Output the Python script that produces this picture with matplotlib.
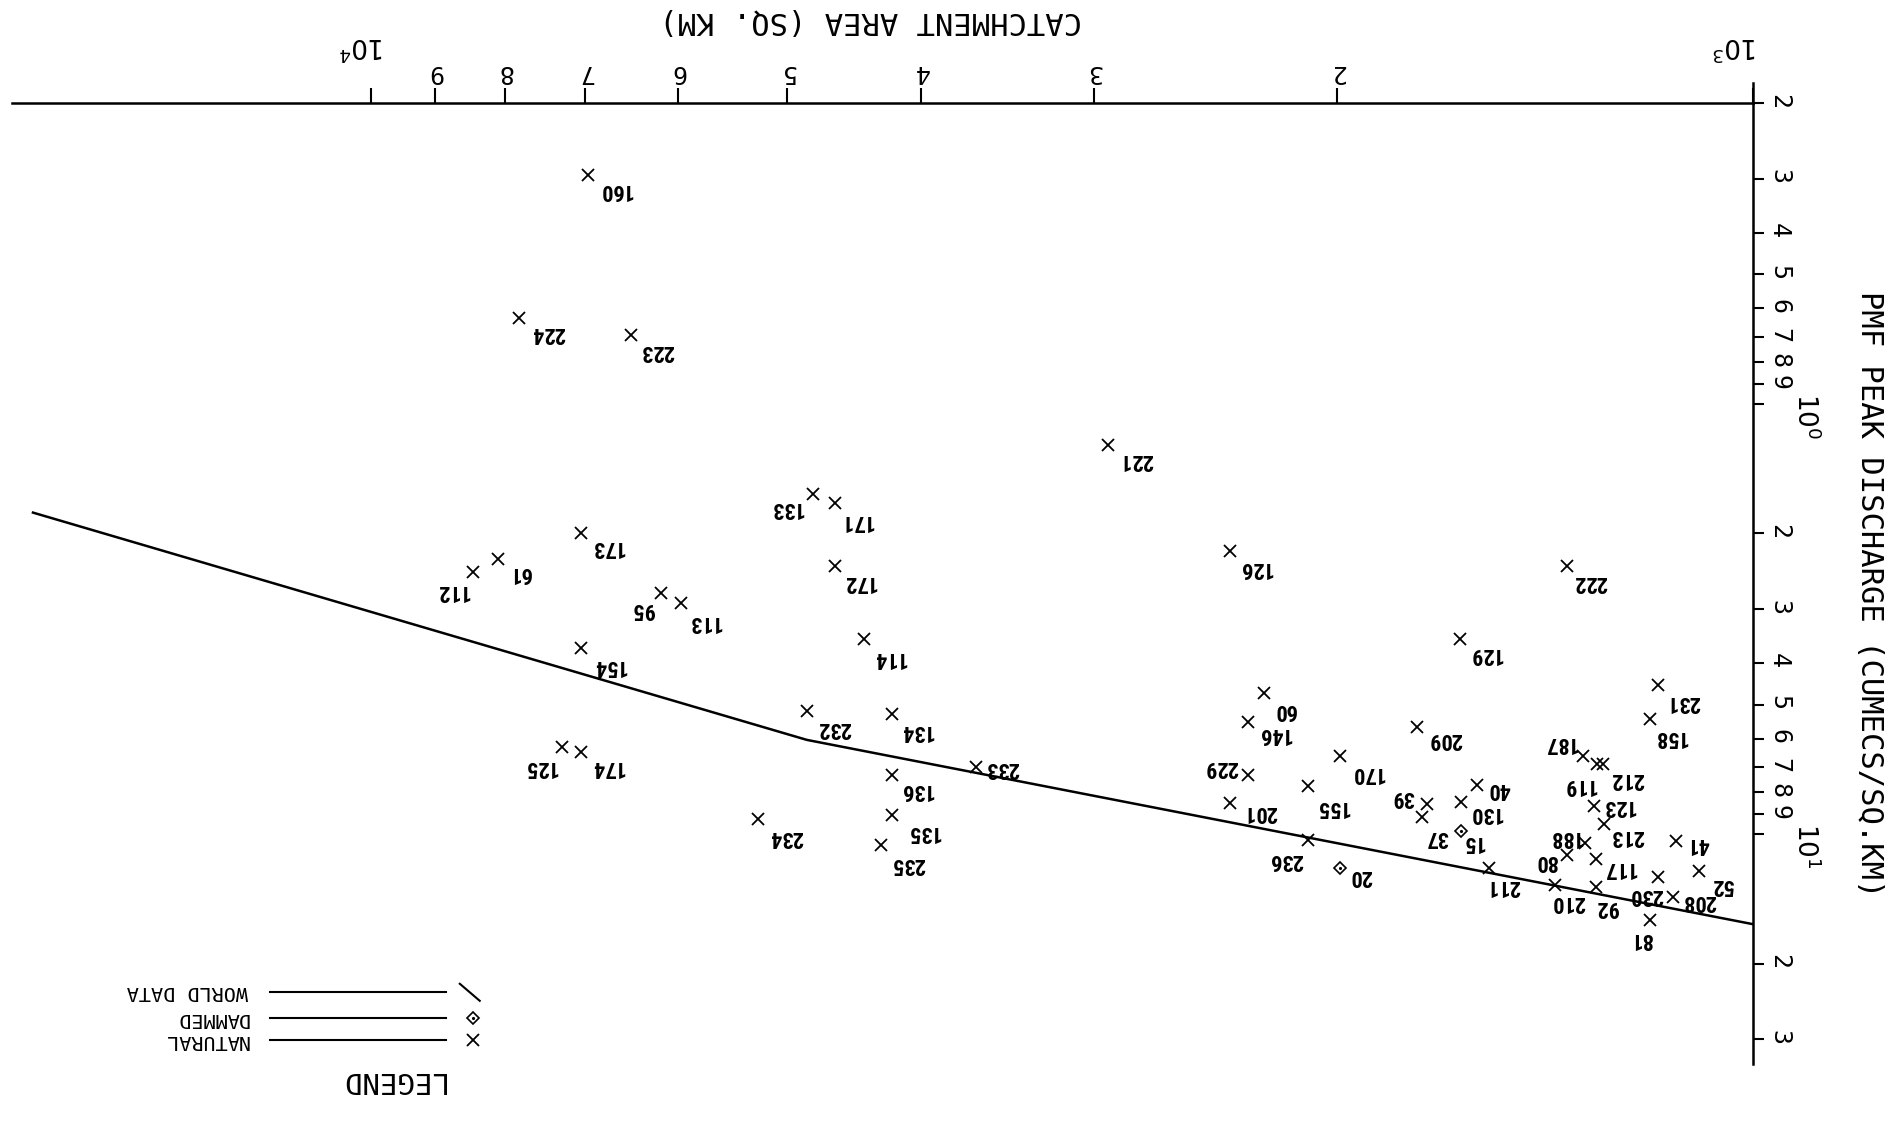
import math
import matplotlib
matplotlib.use('Agg')
import matplotlib.pyplot as plt
from matplotlib.lines import Line2D

#### Data: catchment area (sq km) vs PMF peak discharge (cumecs / sq km)
natural_ids = [160, 224, 223, 221, 133, 171, 173, 61, 112, 172, 126, 222, 113, 95,
               154, 114, 129, 231, 60, 232, 134, 146, 209, 158, 187, 174, 125, 233,
               229, 170, 212, 119, 136, 40, 39, 130, 123, 155, 201, 37, 213, 188,
               41, 135, 234, 236, 80, 117, 235, 211, 52, 210, 92, 230, 208, 81]
natural_area = [6970, 7820, 6490, 2930, 4790, 4620, 7050, 8100, 8440, 4620, 2390, 1365, 5970, 6170,
                7050, 4400, 1630, 1173, 2260, 4840, 4200, 2320, 1750, 1187, 1329, 7050, 7280, 3650,
                2320, 1990, 1285, 1298, 4200, 1585, 1722, 1627, 1303, 2100, 2390, 1736, 1282, 1324,
                1138, 4200, 5250, 2100, 1365, 1300, 4280, 1553, 1095, 1392, 1300, 1173, 1143, 1187]
natural_q = [0.294, 0.632, 0.693, 1.25, 1.62, 1.70, 2.00, 2.29, 2.46, 2.38, 2.20, 2.38, 2.90, 2.75,
             3.69, 3.52, 3.52, 4.51, 4.69, 5.17, 5.27, 5.48, 5.63, 5.41, 6.58, 6.45, 6.29, 6.97,
             7.30, 6.58, 6.88, 6.88, 7.30, 7.69, 8.53, 8.42, 8.59, 7.74, 8.48, 9.11, 9.47, 10.5,
             10.4, 9.05, 9.22, 10.3, 11.2, 11.4, 10.6, 12.0, 12.2, 13.1, 13.3, 12.6, 14.0, 15.8]

damned_ids = [15, 20]
damned_area = [1627, 1991]
damned_q = [9.84, 11.96]

world_area = [17570, 4840, 1000]
world_q = [1.79, 6.04, 16.2]

#### Where each site number sits relative to its marker (reference px, y down)
label_offsets = {160: (23, 12), 224: (24, 12), 223: (22, 13), 221: (23, 12), 133: (-22, 12),
                 171: (18, 15), 173: (22, 11), 61: (18, 12), 112: (-17, 16), 172: (20, 13),
                 126: (21, 14), 222: (20, 13), 113: (19, 16), 95: (-15, 13), 154: (23, 15),
                 114: (21, 16), 129: (21, 12), 231: (21, 14), 60: (17, 14), 232: (23, 14),
                 134: (20, 14), 146: (22, 10), 209: (23, 10), 158: (16, 15), 187: (-18, -11),
                 174: (22, 12), 125: (-18, 16), 233: (22, 1), 229: (-22, -7), 170: (22, 14),
                 212: (20, 12), 119: (-14, 17), 136: (20, 12), 40: (18, 3), 39: (-20, -6),
                 130: (20, 9), 123: (20, 0), 155: (20, 17), 201: (25, 7), 37: (12, 17),
                 213: (19, 10), 188: (-16, -5), 41: (18, 2), 135: (26, 14), 234: (23, 15),
                 236: (-18, 17), 80: (-17, 5), 117: (19, 8), 235: (23, 16), 211: (12, 15),
                 52: (19, 11), 210: (11, 14), 92: (9, 16), 230: (-9, 15), 208: (22, 3),
                 81: (-8, 16), 15: (10, 9), 20: (17, 7)}

x_digits = [2000, 3000, 4000, 5000, 6000, 7000, 8000, 9000]
y_digits = [0.2, 0.3, 0.4, 0.5, 0.6, 0.7, 0.8, 0.9, 2, 3, 4, 5, 6, 7, 8, 9, 20, 30]

mono = 'DejaVu Sans Mono'
lab_font = ['Roboto Condensed', 'Liberation Sans Narrow', 'Roboto']

fig = plt.figure(figsize=(19, 11.36), dpi=100)
ax = fig.add_axes([0.0064, 0.063, 0.9164, 0.8463])
ax.set_xscale('log')
ax.set_yscale('log')
ax.set_xlim(18190, 1000)
ax.set_ylim(34.3, 0.2)

#### Envelope line and the points
ax.plot(world_area, world_q, color='black', lw=1.8)
ax.plot(natural_area, natural_q, linestyle='none', marker='x', ms=8.5, mew=1.3, color='black')
ax.plot(damned_area, damned_q, linestyle='none', marker='D', ms=6, mew=1.2, mfc='white', color='black')
ax.plot(damned_area, damned_q, linestyle='none', marker='.', ms=2.5, color='black')

sc = 1.212
for ids, xs, ys in [(natural_ids, natural_area, natural_q), (damned_ids, damned_area, damned_q)]:
    for i, x, y in zip(ids, xs, ys):
        dx, dy = label_offsets[i]
        ax.annotate(str(i), xy=(x, y), xytext=(dx * sc, -dy * sc), textcoords='offset pixels',
                    ha='center', va='center', rotation=180, fontsize=16, fontweight='bold',
                    family=lab_font)

#### Axes: only top and right, everything upside down
for s in ['left', 'bottom']:
    ax.spines[s].set_visible(False)
for s in ['top', 'right']:
    ax.spines[s].set_linewidth(1.8)
ax.plot([1, 1], [1, 1.021], transform=ax.transAxes, color='black', lw=1.8, clip_on=False)

ax.set_xticks([1000, 10000], labels=['', ''])
ax.set_xticks(x_digits, labels=[str(int(v / 1000)) for v in x_digits], minor=True)
ax.set_yticks([1, 10], labels=['', ''])
ax.set_yticks(y_digits, labels=[('%g' % v).replace('0.', '')[0] for v in y_digits], minor=True)

ax.tick_params(axis='x', which='both', top=True, bottom=False, labeltop=True, labelbottom=False,
               direction='out', length=11, width=1.5, labelsize=18, labelrotation=180, pad=3)
ax.tick_params(axis='y', which='both', right=True, left=False, labelright=True, labelleft=False,
               direction='out', length=8, width=1.5, labelsize=18, labelrotation=270, pad=2)
for t in ax.get_xticklabels(minor=True) + ax.get_yticklabels(minor=True):
    t.set_family(mono)

for v, off in [(1000, (-18, 58)), (10000, (-10, 58))]:
    ax.annotate(r'$10^{%d}$' % round(math.log10(v)), xy=(v, 1),
                xycoords=ax.get_xaxis_transform(), xytext=off, textcoords='offset pixels',
                ha='center', va='center', rotation=180, fontsize=19)
for v in [1, 10]:
    ax.annotate(r'$10^{%d}$' % round(math.log10(v)), xy=(1, v),
                xycoords=ax.get_yaxis_transform(), xytext=(52, -12), textcoords='offset pixels',
                ha='center', va='center', rotation=270, fontsize=19)

fig.text(0.458, 0.982, 'CATCHMENT AREA (SQ. KM)', rotation=180, ha='center', va='center',
         fontsize=22, family=mono)
fig.text(0.984, 0.477, 'PMF PEAK DISCHARGE (CUMECS/SQ.KM)', rotation=270, ha='center', va='center',
         fontsize=22, family=mono)

#### Hand drawn legend, bottom left
fig.text(0.206, 0.049, 'LEGEND', rotation=180, ha='center', va='center', fontsize=21, family=mono)
rows = [(0.127, 'WORLD DATA'), (0.1035, 'DAMMED'), (0.0843, 'NATURAL')]
for fy, name in rows:
    fig.add_artist(Line2D([0.1422, 0.2347], [fy, fy], color='black', lw=1.5))
    fig.text(0.1307, fy, name, rotation=180, ha='right', va='center', fontsize=14.5, family=mono)
fig.add_artist(Line2D([0.2420, 0.2525], [0.134, 0.119], color='black', lw=1.5))
fig.add_artist(Line2D([0.2487], [0.1035], marker='D', ms=6, mew=1.2, mfc='white', color='black'))
fig.add_artist(Line2D([0.2487], [0.1035], marker='.', ms=2.5, color='black'))
fig.add_artist(Line2D([0.2487], [0.0843], marker='x', ms=8.5, mew=1.3, color='black'))

fig.savefig('out.png', dpi=100, facecolor='white')
